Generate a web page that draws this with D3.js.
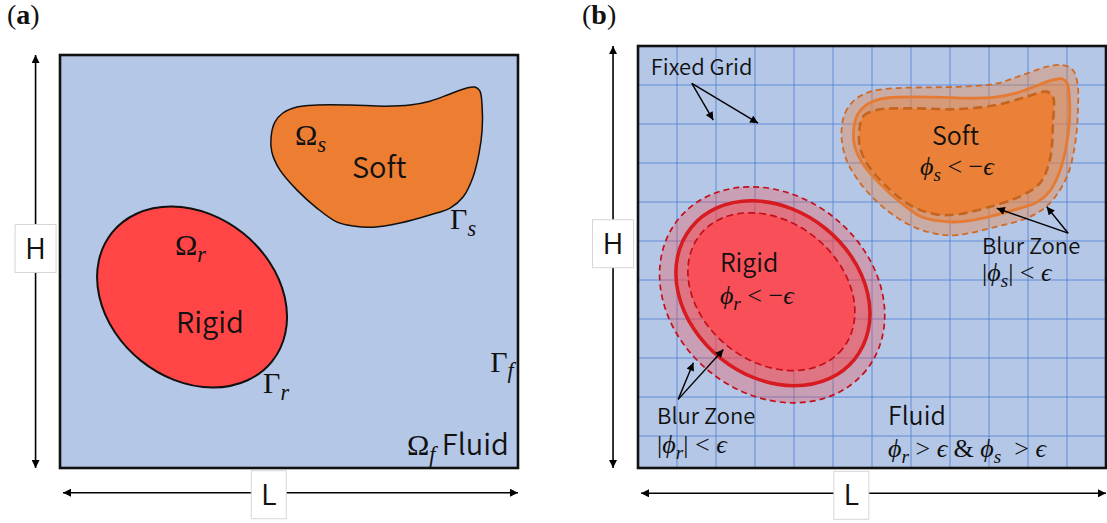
<!DOCTYPE html>
<html lang="en">
<head>
<meta charset="utf-8">
<title>Rigid, soft and fluid domains</title>
<script src="https://d3js.org/d3.v7.min.js"></script>
<style>
  body { margin: 0; background: #fff; }
  text { white-space: pre; fill: #111; }
  .sans { font-family: 'Noto Sans CJK SC', 'Noto Sans', sans-serif; font-weight: 350; }
  .math { font-family: 'Liberation Serif', 'DejaVu Serif', serif; font-weight: 400; }
</style>
</head>
<body>
<script>
// domain size, in grid cells (L wide, H high, y measured downward)
var L = 12, H = 10.82;
var gridX = [1, 2, 3, 4, 5, 6, 7, 8, 9, 10, 11];
var gridY = [1, 2, 3, 4, 5, 6, 7, 8, 9, 10];

// soft body boundary (Gamma_s)
var softBoundary = [
  [5.53, 2.15], [5.63, 1.76], [5.84, 1.52], [6.21, 1.36], [6.73, 1.31], [7.60, 1.31],
  [8.52, 1.34], [9.17, 1.31], [9.69, 1.21], [10.22, 1.02], [10.64, 0.87], [10.87, 0.84],
  [11.00, 0.94], [11.06, 1.34], [11.06, 1.97], [10.98, 2.57], [10.82, 3.20], [10.56, 3.72],
  [10.22, 4.01], [9.69, 4.19], [8.91, 4.40], [8.20, 4.51], [7.68, 4.48], [7.26, 4.38],
  [6.73, 4.01], [6.21, 3.54], [5.76, 3.01], [5.55, 2.54]
];
// outer edge of the soft blur zone (phi_s = +eps)
var softOuter = [
  [5.22, 2.15], [5.31, 1.72], [5.56, 1.38], [5.95, 1.17], [6.63, 1.08], [7.49, 1.06],
  [8.33, 1.04], [9.20, 0.96], [9.87, 0.74], [10.49, 0.53], [10.90, 0.49], [11.15, 0.62],
  [11.27, 0.96], [11.28, 1.64], [11.21, 2.49], [11.00, 3.35], [10.56, 4.03], [10.05, 4.38],
  [9.20, 4.63], [8.17, 4.85], [7.66, 4.82], [7.05, 4.63], [6.38, 4.21], [5.77, 3.61],
  [5.38, 3.00], [5.25, 2.58]
];
// inner edge of the soft blur zone (phi_s = -eps)
var softInner = [
  [5.67, 2.24], [5.77, 1.81], [6.12, 1.64], [7.05, 1.60], [8.17, 1.62], [9.20, 1.51],
  [9.97, 1.30], [10.48, 1.17], [10.64, 1.30], [10.64, 1.97], [10.56, 2.92], [10.31, 3.51],
  [9.79, 3.86], [9.03, 4.12], [8.17, 4.32], [7.66, 4.32], [7.05, 4.12], [6.38, 3.61],
  [5.86, 3.00], [5.69, 2.58]
];

// rigid body (Gamma_r) and its blur zone edges: centre, semi-axes, tilt in degrees
var rigidBoundary = { cx: 3.46, cy: 6.34, rx: 2.69, ry: 2.14, tilt: 38.8 };
var rigidOuter    = { cx: 3.44, cy: 6.38, rx: 3.09, ry: 2.54, tilt: 38.8 };
var rigidInner    = { cx: 3.42, cy: 6.30, rx: 2.34, ry: 1.79, tilt: 38.8 };

// dimension marks (outside the box)
var hMark = { x: -0.64, y: 5.07 };
var lMark = { x: 5.47, y: 11.52 };

// labels: [x, y(baseline), role, parts]
var labelsA = [
  [6.16, 2.36, "name", [["Ω", "up"], ["s", "sub"]]],
  [7.65, 3.22, "name", [["Soft"]]],
  [10.22, 4.56, "name", [["Γ", "up"], ["s", "sub"]]],
  [3.01, 5.24, "name", [["Ω", "up"], ["r", "sub"]]],
  [3.04, 7.28, "name", [["Rigid"]]],
  [5.32, 8.86, "name", [["Γ", "up"], ["r", "sub"]]],
  [11.27, 8.30, "name", [["Γ", "up"], ["f", "sub"]]],
  [9.09, 10.48, "name", [["Ω", "up"], ["f", "sub"], [" Fluid"]]]
];
var labelsB = [
  [0.33, 0.74, "note", [["Fixed Grid"]]],
  [7.54, 2.54, "name", [["Soft"]]],
  [7.23, 3.31, "name", [["ϕ", "it"], ["s", "sub"], [" < −", "up"], ["ϵ", "it"]]],
  [8.82, 5.34, "note", [["Blur Zone"]]],
  [8.82, 6.02, "name", [["|", "up"], ["ϕ", "it"], ["s", "sub"], ["| < ", "up"], ["ϵ", "it"]]],
  [2.10, 5.79, "name", [["Rigid"]]],
  [2.10, 6.62, "name", [["ϕ", "it"], ["r", "sub"], [" < −", "up"], ["ϵ", "it"]]],
  [0.49, 9.70, "note", [["Blur Zone"]]],
  [0.49, 10.43, "name", [["|", "up"], ["ϕ", "it"], ["r", "sub"], ["| < ", "up"], ["ϵ", "it"]]],
  [6.41, 9.72, "name", [["Fluid"]]],
  [6.41, 10.54, "name", [["ϕ", "it"], ["r", "sub"], [" > ", "up"], ["ϵ", "it"], [" & ", "up"],
                         ["ϕ", "it"], ["s", "sub"], ["  > ", "up"], ["ϵ", "it"]]]
];

// pointer arrows of panel b: tail, then heads
var pointers = [
  { from: [1.38, 0.96], to: [[1.93, 1.90], [3.08, 1.98]] },
  { from: [11.03, 4.80], to: [[9.20, 4.16], [10.48, 4.12]] },
  { from: [1.03, 9.06], to: [[1.42, 8.12], [2.19, 7.78]] }
];

var svg = d3.select("body").append("svg")
  .attr("width", 1107).attr("height", 523);

var defs = svg.append("defs");
defs.append("marker").attr("id", "head")
  .attr("viewBox", "0 0 10 10").attr("refX", 10).attr("refY", 5)
  .attr("markerUnits", "userSpaceOnUse")
  .attr("markerWidth", 9).attr("markerHeight", 8)
  .attr("orient", "auto-start-reverse")
  .append("path").attr("d", "M0,0 L10,5 L0,10 z").attr("fill", "#000");

function drawLabel(g, sx, sy, d, sizes) {
  var size = sizes[d[2]];
  var msize = sizes.math;
  var t = g.append("text").attr("x", sx(d[0])).attr("y", sy(d[1])).attr("font-size", size);
  var shift = 0;
  d[3].forEach(function(p) {
    var kind = p[1] || "sans";
    var s = t.append("tspan").text(p[0]);
    var target = kind === "sub" ? msize * 0.22 : 0;
    if (target !== shift) { s.attr("dy", target - shift); shift = target; }
    if (kind === "sans") {
      s.attr("class", "sans");
    } else {
      s.attr("class", "math").attr("font-size", kind === "sub" ? msize * 0.74 : msize);
      if (kind !== "up") s.attr("font-style", "italic");
    }
  });
}

function ellipse(g, sx, sy, e) {
  var k = sx(1) - sx(0);
  return g.append("ellipse")
    .attr("cx", sx(e.cx)).attr("cy", sy(e.cy))
    .attr("rx", e.rx * k).attr("ry", e.ry * k)
    .attr("transform", "rotate(" + e.tilt + "," + sx(e.cx) + "," + sy(e.cy) + ")");
}

function dimensions(g, sx, sy) {
  g.append("line")
    .attr("x1", sx(hMark.x)).attr("x2", sx(hMark.x))
    .attr("y1", sy(0)).attr("y2", sy(H))
    .attr("stroke", "#000").attr("stroke-width", 1.6)
    .attr("marker-start", "url(#head)").attr("marker-end", "url(#head)");
  g.append("line")
    .attr("x1", sx(0) + 3).attr("x2", sx(L))
    .attr("y1", sy(lMark.y) - 2).attr("y2", sy(lMark.y) - 2)
    .attr("stroke", "#000").attr("stroke-width", 1.6)
    .attr("marker-start", "url(#head)").attr("marker-end", "url(#head)");
  [[hMark, "H", 41, 48], [lMark, "L", 35, 48]].forEach(function(m) {
    var cx = sx(m[0].x), cy = sy(m[0].y);
    g.append("rect")
      .attr("x", cx - m[2] / 2).attr("y", cy - m[3] / 2)
      .attr("width", m[2]).attr("height", m[3])
      .attr("fill", "#fff").attr("stroke", "#d6d6d6").attr("stroke-width", 1);
    g.append("text").attr("class", "sans")
      .attr("x", cx).attr("y", cy + 10)
      .attr("text-anchor", "middle").attr("font-size", 29)
      .text(m[1]);
  });
}

function panelTag(x, letter) {
  var t = svg.append("text").attr("class", "math")
    .attr("x", x).attr("y", 24).attr("font-size", 28);
  t.append("tspan").text("(");
  t.append("tspan").attr("font-weight", "bold").text(letter);
  t.append("tspan").text(")");
}

// ---------- panel (a) ----------
var xa = d3.scaleLinear().domain([0, L]).range([60, 518]);
var ya = d3.scaleLinear().domain([0, H]).range([55, 468]);
var ga = svg.append("g");
var lineA = d3.line().curve(d3.curveCatmullRomClosed.alpha(0.5))
  .x(function(d) { return xa(d[0]); }).y(function(d) { return ya(d[1]); });

panelTag(7, "a");
dimensions(ga, xa, ya);

ga.append("rect")
  .attr("x", xa(0)).attr("y", ya(0))
  .attr("width", xa(L) - xa(0)).attr("height", ya(H) - ya(0))
  .attr("fill", "#b4c7e7").attr("stroke", "#111").attr("stroke-width", 2.6);

ga.append("path").attr("d", lineA(softBoundary))
  .attr("fill", "#ed7d31").attr("stroke", "#111").attr("stroke-width", 1.5);

ellipse(ga, xa, ya, rigidBoundary)
  .attr("fill", "#ff4545").attr("stroke", "#111").attr("stroke-width", 2);

labelsA.forEach(function(d) { drawLabel(ga, xa, ya, d, { name: 29, note: 22, math: 30 }); });

// ---------- panel (b) ----------
var xb = d3.scaleLinear().domain([0, L]).range([638, 1106]);
var yb = d3.scaleLinear().domain([0, H]).range([46, 468]);
var gb = svg.append("g");
var lineB = d3.line().curve(d3.curveCatmullRomClosed.alpha(0.5))
  .x(function(d) { return xb(d[0]); }).y(function(d) { return yb(d[1]); });

panelTag(582, "b");
dimensions(gb, xb, yb);

gb.append("rect")
  .attr("x", xb(0)).attr("y", yb(0))
  .attr("width", xb(L) - xb(0)).attr("height", yb(H) - yb(0))
  .attr("fill", "#b4c7e7");

gb.selectAll(".gx").data(gridX).enter().append("line")
  .attr("x1", function(d) { return xb(d); }).attr("x2", function(d) { return xb(d); })
  .attr("y1", yb(0)).attr("y2", yb(H))
  .attr("stroke", "#4a78d0").attr("stroke-opacity", 0.75).attr("stroke-width", 1);
gb.selectAll(".gy").data(gridY).enter().append("line")
  .attr("x1", xb(0)).attr("x2", xb(L))
  .attr("y1", function(d) { return yb(d); }).attr("y2", function(d) { return yb(d); })
  .attr("stroke", "#4a78d0").attr("stroke-opacity", 0.75).attr("stroke-width", 1);

// rigid body with blur zone
ellipse(gb, xb, yb, rigidOuter).attr("fill", "#ff3b3b").attr("fill-opacity", 0.28);
ellipse(gb, xb, yb, rigidBoundary).attr("fill", "#ff3b3b").attr("fill-opacity", 0.42);
ellipse(gb, xb, yb, rigidInner).attr("fill", "#fb4c55").attr("fill-opacity", 0.92);
ellipse(gb, xb, yb, rigidOuter).attr("fill", "none")
  .attr("stroke", "#c40f1a").attr("stroke-width", 1.7).attr("stroke-dasharray", "6,4");
ellipse(gb, xb, yb, rigidInner).attr("fill", "none")
  .attr("stroke", "#c40f1a").attr("stroke-width", 1.7).attr("stroke-dasharray", "7,4");
ellipse(gb, xb, yb, rigidBoundary).attr("fill", "none")
  .attr("stroke", "#d81b20").attr("stroke-width", 3.6);

// soft body with blur zone
gb.append("path").attr("d", lineB(softOuter)).attr("fill", "#ed7d31").attr("fill-opacity", 0.36);
gb.append("path").attr("d", lineB(softBoundary)).attr("fill", "#ed7d31").attr("fill-opacity", 0.38);
gb.append("path").attr("d", lineB(softInner)).attr("fill", "#ed7d31").attr("fill-opacity", 0.9);
gb.append("path").attr("d", lineB(softOuter)).attr("fill", "none")
  .attr("stroke", "#d06a26").attr("stroke-width", 1.8).attr("stroke-dasharray", "6,4");
gb.append("path").attr("d", lineB(softInner)).attr("fill", "none")
  .attr("stroke", "#c4641f").attr("stroke-width", 2.6).attr("stroke-dasharray", "9,5");
gb.append("path").attr("d", lineB(softBoundary)).attr("fill", "none")
  .attr("stroke", "#e57a33").attr("stroke-width", 2.8);

gb.append("rect")
  .attr("x", xb(0)).attr("y", yb(0))
  .attr("width", xb(L) - xb(0)).attr("height", yb(H) - yb(0))
  .attr("fill", "none").attr("stroke", "#111").attr("stroke-width", 2.6);

pointers.forEach(function(p) {
  p.to.forEach(function(t) {
    gb.append("line")
      .attr("x1", xb(p.from[0])).attr("y1", yb(p.from[1]))
      .attr("x2", xb(t[0])).attr("y2", yb(t[1]))
      .attr("stroke", "#000").attr("stroke-width", 1.4)
      .attr("marker-end", "url(#head)");
  });
});

labelsB.forEach(function(d) { drawLabel(gb, xb, yb, d, { name: 25, note: 22, math: 26 }); });
</script>
</body>
</html>
